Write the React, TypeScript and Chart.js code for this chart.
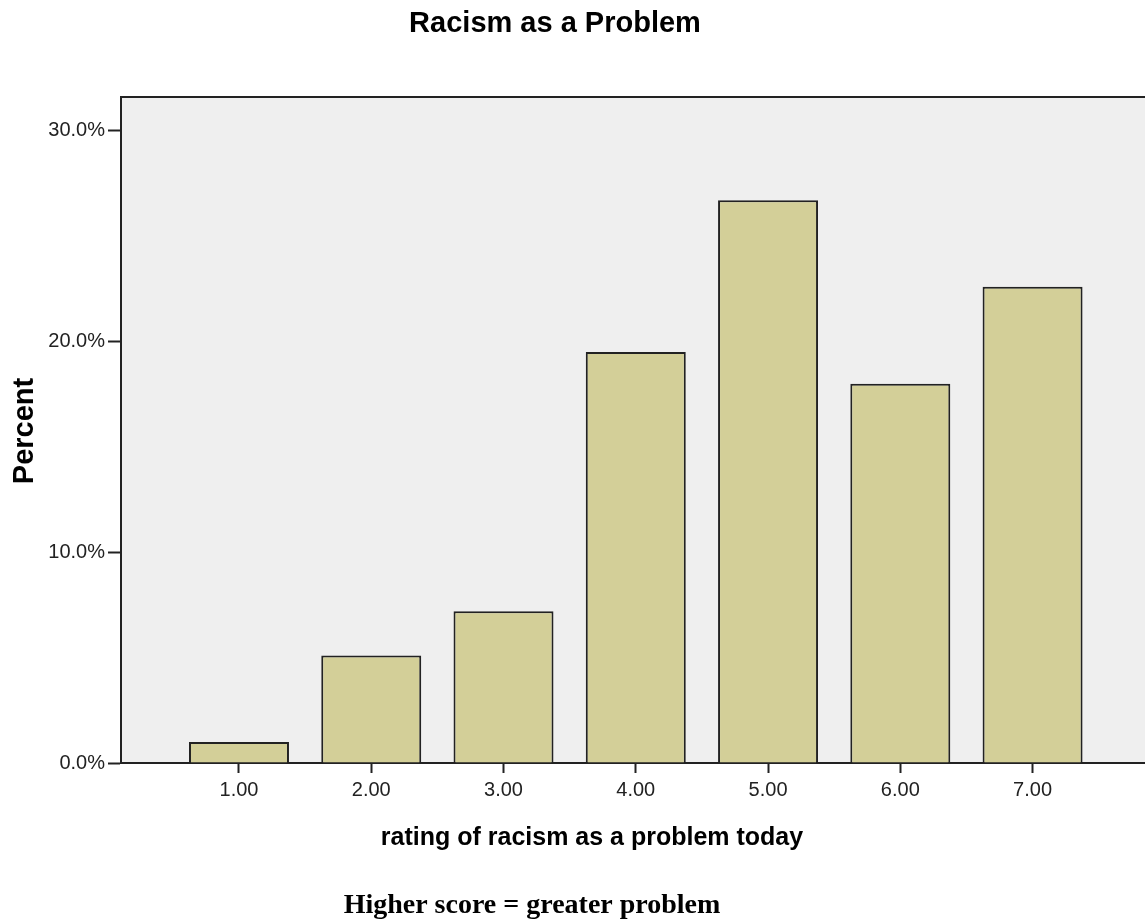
import React, { useEffect, useRef } from "react";
import { Chart, registerables } from "chart.js";

Chart.register(...registerables);

const categories = [1, 2, 3, 4, 5, 6, 7];
const percentValues = [1.0, 5.1, 7.2, 19.5, 26.7, 18.0, 22.6];
const yTickValues = [0, 10, 20, 30];
const chartTitle = "Racism as a Problem";
const xAxisTitle = "rating of racism as a problem today";
const yAxisTitle = "Percent";
const footnote = "Higher score = greater problem";

const W = 1145;
const H = 919;

const decorPlugin = {
  id: "decor",
  beforeDraw(chart: any) {
    const { ctx, chartArea } = chart;
    ctx.save();
    ctx.fillStyle = "#ffffff";
    ctx.fillRect(0, 0, chart.width, chart.height);
    ctx.fillStyle = "#efefef";
    ctx.fillRect(chartArea.left, chartArea.top, chartArea.right - chartArea.left, chartArea.bottom - chartArea.top);
    ctx.restore();
  },
  afterDraw(chart: any) {
    const { ctx, chartArea } = chart;
    ctx.save();
    ctx.strokeStyle = "#222";
    ctx.lineWidth = 2;
    ctx.beginPath();
    ctx.moveTo(chartArea.left, chartArea.top);
    ctx.lineTo(chartArea.right, chartArea.top);
    ctx.stroke();

    ctx.fillStyle = "#000";
    ctx.textAlign = "center";
    ctx.textBaseline = "alphabetic";
    ctx.font = "bold 29px 'Liberation Sans', Arial, sans-serif";
    ctx.fillText(chartTitle, 555, 32);

    ctx.font = "bold 25px 'Liberation Sans', Arial, sans-serif";
    ctx.fillText(xAxisTitle, 592, 845);

    ctx.save();
    ctx.translate(33, 431);
    ctx.rotate(-Math.PI / 2);
    ctx.font = "bold 29px 'Liberation Sans', Arial, sans-serif";
    ctx.fillText(yAxisTitle, 0, 0);
    ctx.restore();

    ctx.font = "bold 28px 'Liberation Serif', 'Times New Roman', serif";
    ctx.fillText(footnote, 532, 913);
    ctx.restore();
  },
};

export default function App() {
  const canvasRef = useRef<HTMLCanvasElement | null>(null);

  useEffect(() => {
    const canvas = canvasRef.current;
    if (!canvas) return;
    const chart = new Chart(canvas, {
      type: "bar",
      data: {
        datasets: [
          {
            data: categories.map((c, i) => ({ x: c, y: percentValues[i] })),
            backgroundColor: "#d3cf98",
            borderColor: "#222222",
            borderWidth: 2,
            barPercentage: 0.756,
            categoryPercentage: 1,
          },
        ],
      },
      options: {
        animation: false,
        responsive: false,
        devicePixelRatio: 1,
        layout: { padding: { top: 97, right: 0, left: 0, bottom: 0 } },
        plugins: {
          legend: { display: false },
          tooltip: { enabled: false },
          title: { display: false },
        },
        scales: {
          x: {
            type: "linear",
            offset: false,
            min: 0.108,
            max: 7.85,
            afterBuildTicks: (scale: any) => {
              scale.ticks = categories.map((v) => ({ value: v }));
            },
            afterFit: (scale: any) => {
              scale.height = H - 763;
            },
            grid: {
              offset: false,
              drawOnChartArea: false,
              drawTicks: true,
              tickLength: 10,
              tickWidth: 2,
              tickColor: "#222",
            },
            border: { display: true, color: "#222", width: 2 },
            ticks: {
              padding: 5,
              color: "#222",
              font: { family: "'Liberation Sans', Arial, sans-serif", size: 20 },
              callback: (v: any) => Number(v).toFixed(2),
              maxRotation: 0,
            },
          },
          y: {
            type: "linear",
            min: 0,
            max: 31.6,
            afterBuildTicks: (scale: any) => {
              scale.ticks = yTickValues.map((v) => ({ value: v }));
            },
            afterFit: (scale: any) => {
              scale.width = 121;
            },
            grid: {
              drawOnChartArea: false,
              drawTicks: true,
              tickLength: 13,
              tickWidth: 2,
              tickColor: "#222",
            },
            border: { display: true, color: "#222", width: 2 },
            ticks: {
              padding: 3,
              color: "#222",
              font: { family: "'Liberation Sans', Arial, sans-serif", size: 20 },
              callback: (v: any) => Number(v).toFixed(1) + "%",
            },
          },
        },
      },
      plugins: [decorPlugin],
    });
    return () => chart.destroy();
  }, []);

  return (
    <div style={{ position: "fixed", left: 0, top: 0, width: W, height: H, background: "#fff" }}>
      <canvas ref={canvasRef} width={W} height={H} style={{ width: W, height: H, display: "block" }} />
    </div>
  );
}
